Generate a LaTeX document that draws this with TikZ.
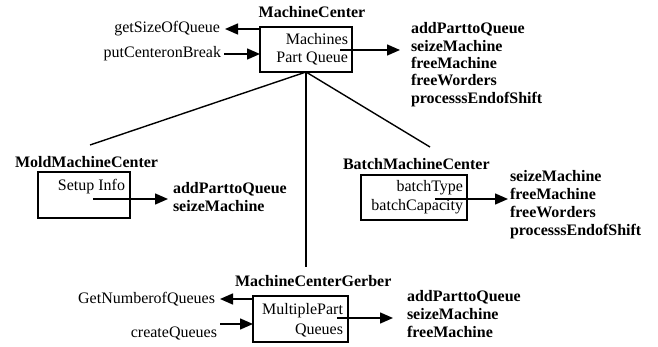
\documentclass[tikz,border=0pt]{standalone}
\usepackage{fontspec}
\setmainfont{Liberation Serif}
\usetikzlibrary{arrows.meta}
\begin{document}
\begin{tikzpicture}[x=1pt,y=-1pt,
  every node/.style={inner sep=0pt, outer sep=0pt, font=\fontsize{16}{18}\selectfont},
  classbox/.style={draw, line width=1.5pt, rectangle},
  title/.style={font=\fontsize{16}{18}\selectfont\bfseries},
  attr/.style={anchor=base east},
  % multi-line lists are placed by the baseline of their last line
  methods/.style={align=left, anchor=base west, font=\fontsize{16}{18}\selectfont\bfseries},
  lbl/.style={anchor=base east},
  arr/.style={line width=1.4pt, -{Triangle[length=13pt,width=11pt]}},
  link/.style={line width=1.4pt}]
\useasboundingbox (0,0) rectangle (658,347);

% MachineCenter
\node[classbox, minimum width=92pt, minimum height=45pt] (mc) at (306,49.5) {};
\node[title, anchor=base] (mct) at (312,18) {MachineCenter};
\node[attr] (mca) at (348,45) {Machines};
\node[attr] (mcb) at (348,63) {Part Queue};
\node[methods, font=\fontsize{16}{17.3}\selectfont\bfseries] (mcm) at (411,103.2)
  {addParttoQueue\\seizeMachine\\freeMachine\\freeWorders\\processsEndofShift};
\node[lbl] (mcl1) at (220,33) {getSizeOfQueue};
\node[lbl] (mcl2) at (221,58) {putCenteronBreak};
\coordinate (mcin) at (340,50);
\coordinate (mcout) at (400,50);
\draw[arr] (mc.west |- 0,29) -- (225,29) coordinate (g1);
\draw[arr] (224,54) coordinate (p1) -- (mc.west |- 0,54);
\draw[arr] (mcin) -- (mcout);

% MoldMachineCenter
\node[classbox, minimum width=92pt, minimum height=46pt] (mold) at (84,195) {};
\node[title, anchor=base west] (moldt) at (15,168) {MoldMachineCenter};
\node[attr] (molda) at (125,191) {Setup Info};
\node[methods] (moldm) at (173,212) {addParttoQueue\\seizeMachine};
\coordinate (moldin) at (93,199);
\coordinate (moldout) at (168,199);
\draw[arr] (moldin) -- (moldout);

% BatchMachineCenter
\node[classbox, minimum width=106pt, minimum height=45pt] (batch) at (414,197.5) {};
\node[title, anchor=base west] (batcht) at (343,170) {BatchMachineCenter};
\node[attr] (batcha) at (463,192) {batchType};
\node[attr] (batchb) at (463,211) {batchCapacity};
\node[methods] (batchm) at (510,235.5) {seizeMachine\\freeMachine\\freeWorders\\processsEndofShift};
\coordinate (batchin) at (435,199);
\coordinate (batchout) at (508,199);
\draw[arr] (batchin) -- (batchout);

% MachineCenterGerber
\node[classbox, minimum width=95pt, minimum height=46pt] (gerber) at (300.5,319) {};
\node[title, anchor=base west] (gerbert) at (235,287) {MachineCenterGerber};
\node[attr] (gerbera) at (343,314) {MultiplePart};
\node[attr] (gerberb) at (343,334) {Queues};
\node[methods] (gerberm) at (407,337) {addParttoQueue\\seizeMachine\\freeMachine};
\node[lbl] (gl1) at (215,303) {GetNumberofQueues};
\node[lbl] (gl2) at (217,337) {createQueues};
\coordinate (gerberin) at (337,318);
\coordinate (gerberout) at (393,318);
\draw[arr] (gerber.west |- 0,299) -- (220,299);
\draw[arr] (220,324) -- (gerber.west |- 0,324);
\draw[arr] (gerberin) -- (gerberout);

% inheritance links
\coordinate (moldtop) at (90,145);
\coordinate (batchtop) at (430,147);
\coordinate (gerbertop) at (306,267);
\draw[link] (mc.south) -- (moldtop);
\draw[link] (mc.south) -- (batchtop);
\draw[link] (mc.south) -- (gerbertop);
\end{tikzpicture}
\end{document}
